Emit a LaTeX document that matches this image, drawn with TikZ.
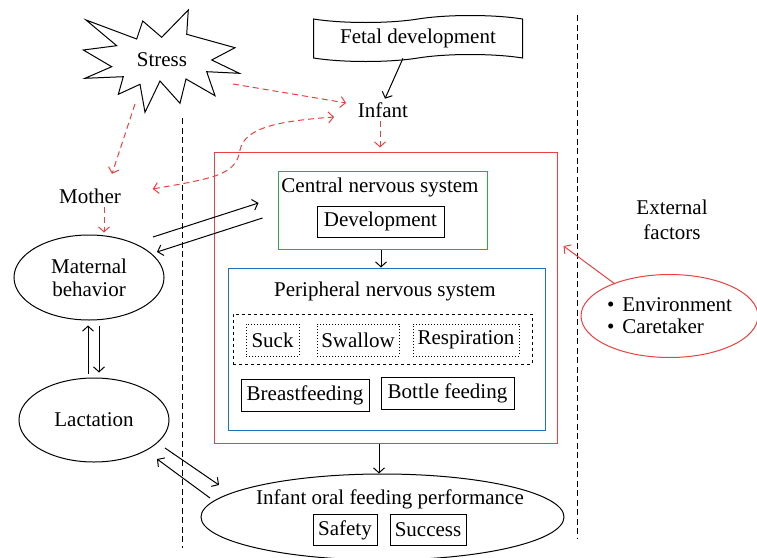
\documentclass[tikz,border=0pt]{standalone}
\usepackage{fontspec}
\setmainfont{Liberation Serif}
\usetikzlibrary{shapes.geometric,shapes.symbols,arrows.meta,calc}
\definecolor{myred}{RGB}{236,64,64}
\definecolor{mygreen}{RGB}{40,172,72}
\definecolor{myblue}{RGB}{32,112,192}
\begin{document}
\begin{tikzpicture}[x=1pt,y=-1pt,
  font=\fontsize{21}{25}\selectfont,
  line width=1pt,
  >={Straight Barb[length=5pt,width=11pt]},
  box/.style={draw,rectangle,inner sep=0pt},
  dotbox/.style={draw,rectangle,dotted,inner sep=0pt},
  oval/.style={draw,ellipse,inner sep=0pt,align=center},
  reddash/.style={myred,dash pattern=on 6pt off 4pt,->},
  sep/.style={dash pattern=on 6pt off 3.5pt}]
\path[use as bounding box] (0,0) rectangle (757,557);

% separators
\draw[sep] (182,118) -- (182,548);
\draw[sep] (577,15) -- (577,538);

% stress starburst
\draw[line join=miter] (86,20) -- (136.7,39) -- (142.7,21) -- (161.7,37.3) -- (188.3,10)
  -- (186.7,34.3) -- (235,47.7) -- (211.7,60) -- (239.3,73.3) -- (206.7,71.7)
  -- (215,95.7) -- (186,79) -- (180,103.3) -- (160,81) -- (145,112.3)
  -- (140,84.3) -- (118.3,94.3) -- (123.3,76.7) -- (85,78.3) -- (111.7,66.7)
  -- (83.3,50) -- (116.7,45.7) -- cycle;
\node (stress) at (162,60) {Stress};
\coordinate (stressE) at (233,84);
\coordinate (stressS) at (135,104);

% fetal development
\node[draw,tape,tape bend top=in and out,tape bend bottom=in and out,tape bend height=7pt,
      minimum width=209,minimum height=46,inner sep=0pt] (fetal) at (418,38.5) {Fetal development};
\node (infant) at (383,110) {Infant};
\node (mother) at (90,196) {Mother};

% left ellipses
\node[oval,minimum width=150,minimum height=85] (mb) at (89,277.5) {Maternal\\[-2pt]behavior};
\node[oval,minimum width=150,minimum height=84] (lact) at (94,420) {Lactation};

% red container
\node[box,draw=myred,minimum width=343,minimum height=291] (redbox) at (385.5,297.5) {};
% CNS
\node[box,draw=mygreen,minimum width=209,minimum height=78] (cns) at (382.5,210) {};
\node (cnstext) at (380,187) {Central nervous system};
\node[box,minimum width=127,minimum height=31] (dev) at (380.5,221.5) {Development};
% PNS
\node[box,draw=myblue,minimum width=317,minimum height=162] (pns) at (386.5,349) {};
\node (pnstext) at (385,291) {Peripheral nervous system};
\node[box,dashed,minimum width=299,minimum height=50] (dashbox) at (382.5,339) {};
\node[dotbox,minimum width=53,minimum height=32] (suck) at (272.5,340) {Suck};
\node[dotbox,minimum width=82,minimum height=32] (swallow) at (358,340) {Swallow};
\node[dotbox,minimum width=106,minimum height=32] (resp) at (466,340) {Respiration};
\node[box,minimum width=128,minimum height=32] (breast) at (305,395) {Breastfeeding};
\node[box,minimum width=133,minimum height=32] (bottle) at (447.5,393) {Bottle feeding};

% infant oral feeding performance
\node[oval,minimum width=363,minimum height=86] (ifp) at (382.5,517) {};
\node (ifptext) at (390,499) {Infant oral feeding performance};
\node[box,minimum width=64,minimum height=31] (safety) at (345,530) {Safety};
\node[box,minimum width=76,minimum height=31] (success) at (428,530) {Success};

% external factors
\node[align=center,font=\fontsize{21}{25}\selectfont] (ext) at (672,220) {External\\factors};
\node[oval,draw=myred,minimum width=177,minimum height=83,align=left,
      font=\fontsize{21}{22}\selectfont] (env) at (669.5,316)
  {\textbullet\hspace{8pt}Environment\\\textbullet\hspace{8pt}Caretaker};

% connectors
\draw[->] ([xshift=-15pt]fetal.south) -- ([xshift=2pt]infant.north);
\draw[reddash] (stressE) -- ($(infant.west)+(-8,-7)$);
\draw[reddash] (stressS) -- ($(mother.north)+(22,-11)$);
\draw[reddash,<->] ($(mother.east)+(28,-7)$) .. controls (215,178) and (236,175) .. (240,150)
   .. controls (245,127) and (280,121) .. ($(infant.west)+(-20,7)$);
\draw[reddash,shorten >=4pt] ([xshift=-3pt]infant.south) -- ([xshift=-5.5pt]redbox.north);
\draw[reddash,shorten >=2pt] ([xshift=14pt]mother.south) -- ([xshift=15pt]mb.north);

\draw[->] ($(mb.center)+(64,-40.5)$) -- ($(cns.west)+(-19,-7)$);
\draw[->] ($(cns.west)+(-15,8)$) -- ($(mb.center)+(68,-25.5)$);

\draw[->] ($(lact.north)+(-6,-4)$) -- ($(mb.south)+(-1,5)$);
\draw[->] ($(mb.south)+(10,5)$) -- ($(lact.north)+(5,-5)$);

\draw[->] ($(lact.center)+(71,28)$) -- ($(ifp.center)+(-163.5,-32)$);
\draw[->] ($(ifp.center)+(-172.5,-19)$) -- ($(lact.center)+(63,39)$);

\draw[->] ([xshift=-1.5pt]cns.south) -- ([xshift=-5.5pt]pns.north);
\draw[->] ([xshift=-6.5pt]redbox.south) -- ([xshift=-3.5pt]ifp.north);

\draw[myred,->] ($(env.center)+(-54.5,-32)$) -- ($(redbox.east)+(6,-51.5)$);
\end{tikzpicture}
\end{document}
